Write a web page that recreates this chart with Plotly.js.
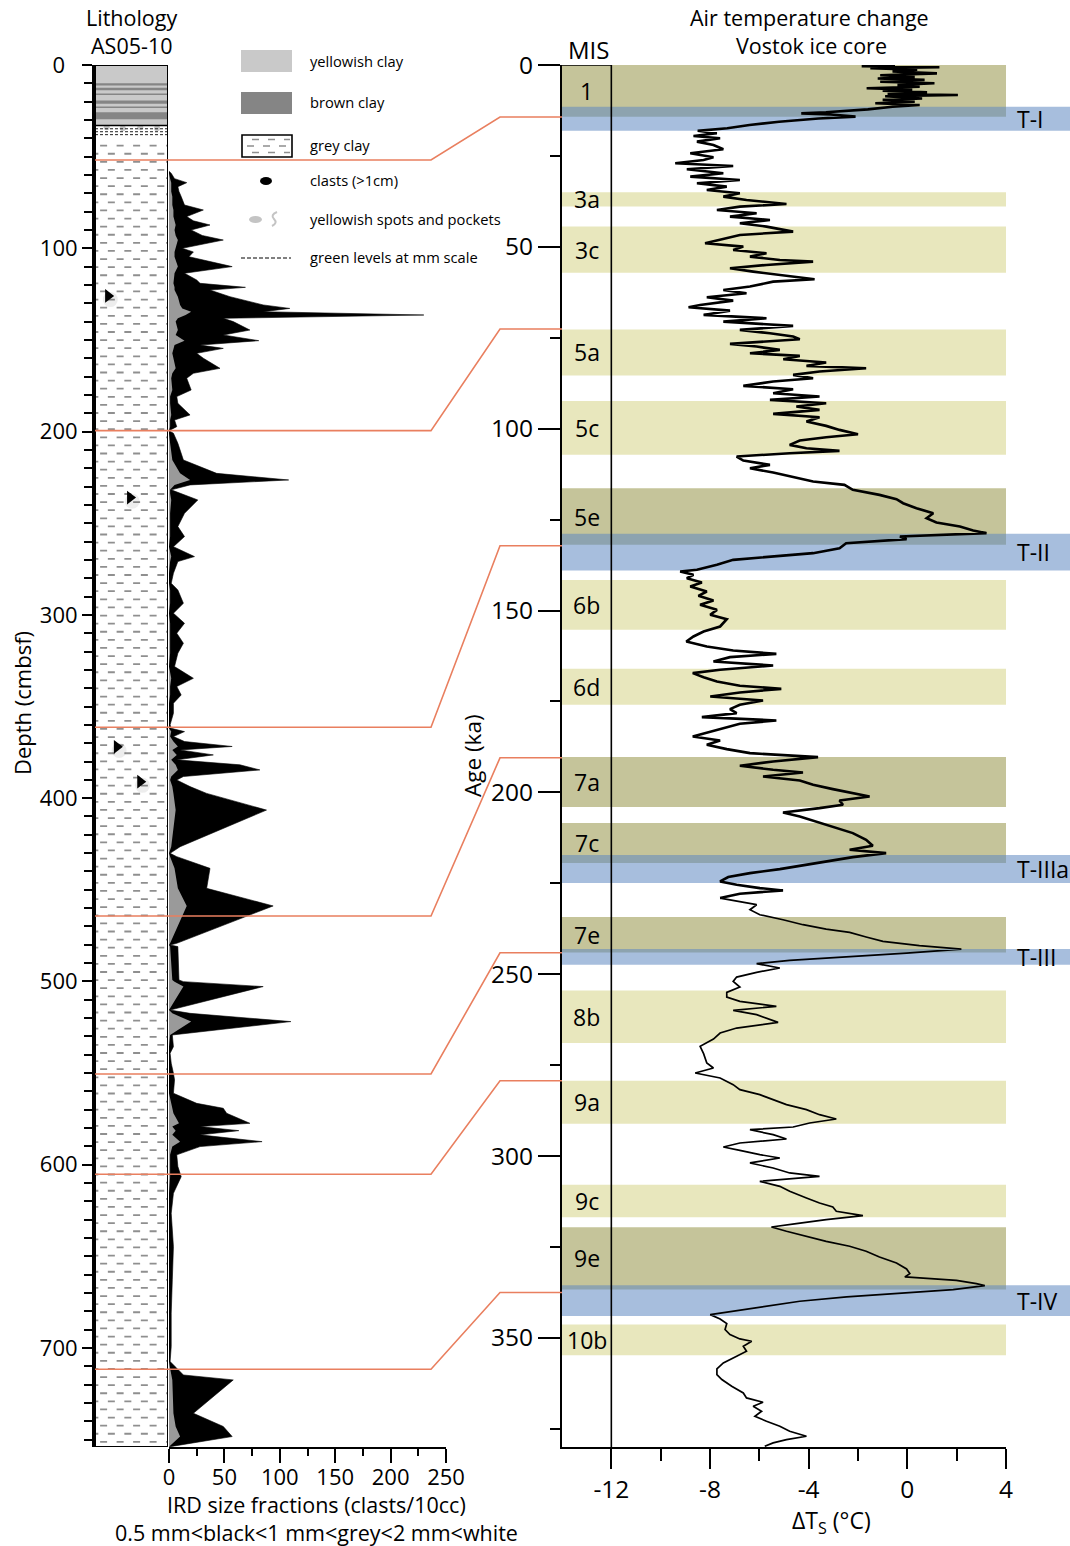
<!DOCTYPE html>
<html><head><meta charset="utf-8">
<script src="https://cdn.plot.ly/plotly-3.0.1.min.js"></script>
<style>html,body{margin:0;padding:0;background:#fff}#chart{width:1070px;height:1546px}</style>
</head><body><div id="chart"></div>
<script>
// ---------------- DATA ----------------
// IRD counts (clasts/10cc) vs depth (cmbsf)
const irdDepth = [
 58, 59.1, 62, 64.2, 66.4, 69, 71.8, 76.4, 79.1, 82.7,
 85, 87.3, 90, 93, 95.5, 100, 102, 104.6, 110, 113.6,
 117.3, 119.1, 121.3, 122.8, 126.4, 130.9, 132.8, 134.6, 136.4, 138.2,
 140, 144.6, 147.3, 150.4, 152.8, 154.6, 157.3, 160, 165.5, 168.2,
 170.9, 177.3, 180.9, 184.6, 190.9, 193.7, 197.3, 199.5, 200.9, 206.4,
 215.5, 222.8, 226.4, 229.1, 231.8, 233.7, 237.3, 244.6, 251.8, 257.3,
 262.8, 268.2, 270.9, 277.3, 282.8, 286.4, 293.7, 299.1, 304.6, 310,
 315.5, 320.9, 328.2, 334.6, 339.1, 343.7, 348.2, 353.7, 360, 361.9,
 363.7, 366.4, 369.1, 371.8, 373.7, 376.4, 379.1, 381.8, 384.6, 388.2,
 390.1, 393.7, 397.4, 406.5, 426.5, 430.1, 431.9, 438.3, 449.2, 458.8,
 479.2, 480.1, 481, 499.2, 500.1, 502.8, 515.6, 517.4, 521.9, 529.2,
 535.6, 539.2, 544.6, 550.1, 553.7, 561, 566.5, 569.2, 571.9, 577.4,
 579.2, 581.4, 583.7, 587.4, 590.1, 594.6, 601, 606.5, 615.6, 626.5,
 644.7, 662.8, 681, 699.2, 707.4, 711, 714.7, 717.4, 735.6, 742.8,
 748.3, 753.8];
// all fractions together (outer black envelope)
const irdTotal = [
 0, 2, 5, 16, 8, 9, 11, 14, 31, 16,
 22, 37, 20, 30, 49, 12, 22, 18, 57, 14,
 25, 28, 69, 37, 55, 85, 109, 85, 230, 49,
 58, 73, 49, 81, 28, 49, 25, 31, 46, 22,
 16, 20, 7, 8, 19, 5, 7, 0, 4, 8,
 13, 43, 108, 19, 2, 10, 26, 14, 8, 14,
 4, 23, 8, 4, 2, 8, 13, 4, 14, 7,
 13, 8, 5, 22, 7, 11, 4, 4, 1, 2,
 14, 4, 14, 57, 10, 40, 7, 64, 82, 13,
 7, 19, 34, 88, 10, 1, 7, 37, 34, 94,
 7, 1, 8, 9, 13, 85, 1, 19, 110, 3,
 4, 1, 2, 4, 5, 4, 25, 49, 52, 73,
 28, 63, 28, 84, 28, 7, 8, 11, 4, 2,
 4, 3, 2, 2, 1, 7, 13, 58, 22, 49,
 57, 1];
// coarser fractions (grey, >1 mm)
const irdGrey = [
 0, 0, 1, 2, 2, 2, 3, 3, 4, 4,
 5, 6, 5, 6, 8, 6, 5, 5, 8, 5,
 4, 4, 5, 5, 8, 10, 12, 20, 15, 8,
 6, 8, 6, 14, 5, 4, 3, 4, 6, 3,
 2, 3, 1, 1, 2, 1, 1, 0, 0, 1,
 3, 10, 19, 5, 1, 1, 2, 1, 1, 1,
 0, 2, 1, 0, 0, 1, 1, 0, 1, 1,
 1, 1, 0, 2, 1, 1, 0, 0, 0, 0,
 2, 1, 4, 8, 3, 7, 2, 6, 8, 2,
 1, 3, 4, 6, 2, 0, 1, 5, 8, 16,
 1, 0, 1, 3, 5, 13, 0, 3, 20, 1,
 0, 0, 0, 0, 0, 0, 2, 3, 4, 9,
 3, 6, 3, 10, 3, 1, 1, 1, 0, 0,
 0, 0, 0, 0, 0, 1, 2, 3, 4, 6,
 10, 0];

// Lithology (cm)
const yellowTop = 0, yellowBottom = 33;
const brownTop = [10, 12.4, 15.6, 19.4, 22.6, 25.8];
const brownBottom = [11.2, 13.8, 16.4, 21.2, 23.4, 29.6];
const greyClayTop = 33, coreBottom = 754;
const greenLevels = [34.8, 36.4, 38.0];
const spotDepth = [34, 34.5, 34, 34.5];
const spotPos = [0.16, 0.38, 0.62, 0.85];
const clastDepth = [126, 236, 372, 391];
const clastPos = [0.18, 0.48, 0.30, 0.62];
const depthTicks = [0, 100, 200, 300, 400, 500, 600, 700];
const depthTickText = ['0\u2007', '100', '200', '300', '400', '500', '600', '700'];

// Vostok air temperature change (ka, degC)
const vostokAge = [
 0, 0.3, 0.6, 0.9, 1.3, 1.8, 2.3, 2.8, 3.3, 3.7, 4.1, 4.6, 5.0, 5.5, 6.0, 6.4, 6.8, 7.05, 7.5, 8.0, 8.25, 8.6, 9.2, 9.6, 10.1, 10.5, 11.0, 11.5,
 12.2, 12.8, 13.0, 13.3, 13.6, 14.2, 14.7, 15.6, 16.5, 17.4, 18.1,
 18.78, 19.52, 20.16, 21.07, 21.99, 23.18, 24.28, 25.38, 26.11, 27.03,
 27.76, 28.68, 29.78, 30.69, 31.61, 32.53, 33.44, 34.36, 35.28, 36.19,
 37.11, 38.21, 38.94, 39.86, 40.77, 41.69, 42.61, 43.52, 44.44, 45.81,
 46.73, 48.10, 49.02, 49.94, 50.85, 51.77, 52.68, 53.60, 54.06, 54.98,
 55.89, 56.81, 57.72, 58.92, 59.56, 60.93, 61.85, 62.76, 63.86, 64.78,
 65.97, 66.61, 67.53, 68.72, 69.64, 70.55, 71.74, 72.84, 73.76, 74.67, 75.41,
 76.69, 77.42, 78.34, 79.26, 79.99, 80.90, 81.82, 82.74, 83.38, 84.29,
 85.21, 86.13, 87.04, 88.23, 89.15, 90.25, 91.17, 92.08, 93.0, 93.91,
 94.83, 95.93, 96.85, 98.04, 99.23, 100.33, 101.52, 102.35, 103.26, 104.45,
 105.37, 106.10, 106.74, 107.66, 108.76, 109.95, 110.87, 112.06, 113.16, 114.53,
 115.45, 116.82, 118.20, 119.39, 120.49, 121.86, 123.23, 124.61, 125.80, 126.90,
 128.0, 128.73, 129.65, 130.38, 131.48, 132.86, 134.23, 135.15, 136.06, 137.44,
 138.81, 139.27, 140.19, 141.10, 142.29, 143.39, 144.77, 145.96, 147.24, 148.43,
 149.81, 151.18, 152.37,
 154.39, 155.77, 157.14, 158.52, 159.89, 160.99, 161.91, 162.82, 164.01, 165.11,
 166.30, 167.22, 168.32, 169.51, 170.70, 171.53, 172.53, 173.63, 174.73, 175.92,
 177.12, 178.21, 179.31, 180.23, 181.15, 182.34, 183.71, 184.63, 185.73, 186.92,
 188.11, 189.21, 190.31, 191.50, 192.69, 193.79, 194.52, 195.62, 196.72, 197.92,
 199.11, 200.21, 201.12, 202.22, 203.41, 204.33, 205.52, 206.62, 207.99, 209.37,
 211.20, 213.03, 214.68, 215.78, 216.70, 217.80, 218.71, 219.90, 221.10, 222.20,
 223.29, 224.49, 225.40, 226.32, 226.96, 227.88, 229.07,
 230.89, 232.27, 233.64, 235.02, 236.39, 237.58, 238.50, 239.78, 240.97, 242.16,
 243.08, 244.18, 245.28, 246.20, 247.11, 248.30, 249.49, 250.78, 251.97, 253.53,
 254.99, 256.28, 257.47, 258.84, 259.94, 261.13, 263.24, 264.80, 266.17, 267.82,
 269.84, 271.85, 274.42, 275.79, 277.16, 278.54, 280.37, 281.75, 283.12, 284.49,
 285.87, 287.24, 288.62, 289.81, 290.91, 292.01, 292.74, 294.12, 295.31, 296.41,
 297.51, 298.42, 299.61, 300.53, 301.90, 303.28, 304.65, 305.57,
 306.95, 308.32, 309.70, 311.53, 312.90, 314.0, 315.19, 316.39, 317.48, 318.58,
 319.50, 320.69, 322.07, 323.44, 324.81, 326.19, 327.75, 329.40, 331.05, 332.33,
 333.24, 334.16, 335.08, 335.63, 336.73, 337.83, 338.74, 339.93, 341.31, 342.68,
 343.60, 344.79, 346.07, 347.72, 349.10, 350.29, 350.93, 352.30, 353.68, 355.05,
 356.88, 358.53, 360.09, 361.46, 363.30, 365.13, 366.50, 367.70, 368.80, 370.17,
 371.54, 372.92, 374.29, 375.67, 377.04, 377.96, 378.87, 379.79];
const vostokT = [
 -0.5, -1.85, 1.3, -1.5, 0.4, -0.6, 1.2, -1.1, 0.3, -1.2, 0.7, -1.1, 1.1, -0.4, 0.5, -1.65, 0.2, -1.0, 0.8, -0.8, 2.05, -0.9, 0.6, -1.0, 0.3, -1.3, 0.5, -0.6,
 -1.6, -2.7, -3.3, -4.3, -3.1, -2.1, -3.6, -5.2, -6.4, -7.3, -8.5,
 -7.72, -8.67, -7.59, -8.53, -7.86, -7.46, -8.80, -7.86, -8.26, -9.41,
 -7.06, -8.94, -7.46, -8.80, -6.79, -8.53, -7.32, -8.13, -6.79, -7.46,
 -6.52, -4.90, -6.79, -7.72, -6.11, -7.19, -5.57, -6.79, -5.71, -4.63,
 -6.79, -7.59, -8.20, -6.65, -7.06, -5.71, -6.38, -5.17, -3.82, -5.71,
 -7.19, -6.25, -5.17, -3.76, -5.44, -6.38, -7.46, -6.52, -8.13, -7.06,
 -8.40, -8.87, -7.19, -8.26, -5.71, -7.46, -4.63, -6.79, -5.57, -4.63, -4.36,
 -7.19, -6.11, -5.17, -6.38, -4.36, -5.03, -3.29, -4.09, -1.67, -3.56,
 -4.63, -3.82, -5.44, -6.65, -4.63, -5.44, -3.56, -5.57, -3.29, -4.50,
 -3.56, -5.44, -3.56, -4.09, -3.29, -2.75, -2.0, -3.29, -4.36, -4.77,
 -4.09, -2.75, -4.77, -6.92, -6.65, -5.57, -6.38, -5.44, -4.77, -3.82,
 -2.55, -2.21, -1.13, -0.44, -0.17, 0.37, 1.05, 0.78, 1.18, 2.13,
 2.67, 3.21, -0.30, -0.03, -2.48, -2.75, -3.82, -5.44, -7.06, -7.72,
 -8.53, -9.21, -8.67, -8.94, -8.33, -8.80, -8.13, -8.47, -7.86, -8.40,
 -7.72, -7.99, -7.32,
 -7.59, -8.26, -8.67, -8.96, -8.13, -7.06, -5.31, -7.19, -7.86, -5.44,
 -7.59, -8.70, -8.26, -7.72, -6.79, -5.11, -6.79, -7.99, -5.85, -6.79,
 -7.19, -6.92, -8.33, -5.31, -6.79, -7.46, -8.13, -8.70, -7.59, -8.13,
 -7.32, -6.38, -3.62, -5.44, -6.79, -5.44, -4.23, -5.85, -4.36, -3.82,
 -3.02, -2.21, -1.53, -2.75, -2.61, -3.56, -5.04, -4.36, -3.69, -3.02,
 -2.21, -1.67, -1.40, -2.34, -0.86, -2.21, -3.02, -4.09, -5.17, -6.38,
 -7.26, -7.59, -6.92, -5.98, -5.04, -6.79, -7.59,
 -6.11, -6.38, -5.98, -5.04, -4.23, -3.29, -2.34, -1.67, -0.99, 0.49,
 2.19, -0.03, -2.48, -4.77, -6.11, -5.17, -6.11, -6.92, -7.06, -6.79,
 -7.32, -7.32, -6.79, -5.31, -7.06, -6.11, -5.24, -6.92, -7.59, -7.86,
 -8.40, -8.26, -8.13, -7.86, -8.60, -7.59, -7.06, -6.79, -5.98, -5.44,
 -4.90, -4.09, -3.56, -2.88, -3.96, -4.63, -6.38, -5.44, -4.90, -6.79,
 -7.46, -6.79, -5.98, -5.17, -6.38, -5.44, -4.77, -3.56,
 -5.98, -5.17, -4.77, -4.09, -3.56, -3.02, -2.88, -1.80, -3.29, -4.50,
 -5.51, -4.90, -4.09, -3.29, -2.34, -1.67, -1.13, -0.44, -0.03, 0.10,
 -0.10, 1.99, 2.80, 3.14, 1.86, -0.59, -2.46, -4.36, -5.71, -7.19,
 -7.99, -7.59, -7.32, -7.39, -7.19, -6.79, -6.31, -6.65, -6.52, -6.92,
 -7.46, -7.72, -7.72, -7.52, -7.12, -6.65, -6.52, -5.85, -6.25, -5.91,
 -6.18, -5.71, -5.17, -4.77, -4.09, -4.90, -5.44, -5.78];
// the record is high-resolution (dense) down to ~229 ka
const vostokDenseUntil = 229.1;

// Marine isotope (sub)stages, ka
const misLabel = ['1','3a','3c','5a','5c','5e','6b','6d','7a','7c','7e','8b','9a','9c','9e','10b'];
const misStart = [0, 35.0, 44.4, 72.7, 92.4, 116.4, 141.6, 166.0, 190.3, 208.4, 234.3, 254.5, 279.3, 307.9, 319.6, 346.3];
const misEnd   = [14.2, 38.9, 57.1, 85.4, 107.2, 131.9, 155.3, 175.9, 204.0, 219.4, 244.0, 268.9, 291.1, 316.8, 336.7, 354.8];
const misWarm  = [true,false,false,false,false,true,false,false,true,true,true,false,false,false,true,false];
// Terminations, ka
const termLabel = ['T-I','T-II','T-IIIa','T-III','T-IV'];
const termStart = [11.45, 128.9, 217.2, 243.1, 335.5];
const termEnd   = [18.05, 139.0, 224.9, 247.4, 344.0];
// Depth-to-age tie points
const tieDepth = [51.8, 199.5, 361.3, 464.3, 550.5, 605.2, 711.6];
const tieAge   = [14.3, 72.6, 132.2, 190.5, 244.1, 279.3, 337.5];
// Tick labels
const tempTicks = [-12, -8, -4, 0, 4];
const tempTickText = ['-12', '-8', '-4', '0', '4'];
const tempMinor = [-10, -6, -2, 2];

// ---------------- LAYOUT HELPERS ----------------
const W = 1070, H = 1546;
const px = v => v / W;
const py = v => 1 - v / H;
const yDom = [py(1447), py(65)];
const DEPTH_MAX = 754, AGE_MAX = 380;
const depthToPaper = d => yDom[0] + (DEPTH_MAX - d) / DEPTH_MAX * (yDom[1] - yDom[0]);
const ageToPaper = a => yDom[0] + (AGE_MAX - a) / AGE_MAX * (yDom[1] - yDom[0]);
const FONT = 'Open Sans, Noto Sans, sans-serif';

// ---------------- TRACES ----------------
const traces = [];

// grey clay dash pattern
const patX = [], patY = [];
let row = 0;
for (let d = 44; d < coreBottom - 1; d += 4.42) {
  patX.push(row % 2 ? -0.05 : 0.07, 1.05, null);
  patY.push(d, d, null);
  row++;
}
traces.push({x: patX, y: patY, xaxis: 'x3', yaxis: 'y', mode: 'lines', hoverinfo: 'skip',
  line: {color: '#8f8f8f', width: 1.8, dash: '7px,9.5px'}});
// yellowish spots
traces.push({x: spotPos, y: spotDepth, xaxis: 'x3', yaxis: 'y', mode: 'markers', hoverinfo: 'skip',
  marker: {symbol: 'circle', size: 6, color: '#c8c8c8'}});
// clast shadows + clasts
traces.push({x: clastPos.map(v => v + 0.03), y: clastDepth.map(v => v + 2), xaxis: 'x3', yaxis: 'y', mode: 'markers', hoverinfo: 'skip',
  marker: {symbol: 'circle', size: 15, color: 'rgba(0,0,0,0.07)'}});
traces.push({x: clastPos, y: clastDepth, xaxis: 'x3', yaxis: 'y', mode: 'markers', hoverinfo: 'skip',
  marker: {symbol: 'triangle-right', size: 12, color: '#000'}});
// IRD envelopes
traces.push({x: irdTotal, y: irdDepth, xaxis: 'x', yaxis: 'y', mode: 'lines', fill: 'tozerox',
  fillcolor: '#000', line: {color: '#000', width: 0.6}, name: '0.5-1 mm'});
traces.push({x: irdGrey, y: irdDepth, xaxis: 'x', yaxis: 'y', mode: 'lines', fill: 'tozerox',
  fillcolor: '#9a9a9a', line: {color: '#9a9a9a', width: 0}, name: '1-2 mm'});
// Vostok: dense upper part drawn heavier, lower part thinner
const upIdx = vostokAge.map((a, i) => i).filter(i => vostokAge[i] <= vostokDenseUntil);
const loIdx = vostokAge.map((a, i) => i).filter(i => vostokAge[i] >= vostokDenseUntil - 0.5);
traces.push({x: upIdx.map(i => vostokT[i]), y: upIdx.map(i => vostokAge[i]), xaxis: 'x2', yaxis: 'y2', mode: 'lines',
  line: {color: '#000', width: 2.6}, name: 'Vostok'});
traces.push({x: loIdx.map(i => vostokT[i]), y: loIdx.map(i => vostokAge[i]), xaxis: 'x2', yaxis: 'y2', mode: 'lines',
  line: {color: '#000', width: 1.7}, name: 'Vostok'});

// ---------------- SHAPES ----------------
const shapes = [];
// lithology
shapes.push({type: 'rect', xref: 'x3', yref: 'y', x0: 0, x1: 1, y0: yellowTop, y1: yellowBottom,
  fillcolor: '#c9c9c9', line: {width: 0}, layer: 'below'});
brownTop.forEach((t, i) => shapes.push({type: 'rect', xref: 'x3', yref: 'y', x0: 0, x1: 1, y0: t, y1: brownBottom[i],
  fillcolor: '#858585', line: {width: 0}, layer: 'below'}));
shapes.push({type: 'line', xref: 'x3', yref: 'y', x0: 0, x1: 1, y0: greyClayTop, y1: greyClayTop,
  line: {color: '#000', width: 1.6}});
greenLevels.forEach(d => shapes.push({type: 'line', xref: 'x3', yref: 'y', x0: 0, x1: 1, y0: d, y1: d,
  line: {color: '#222', width: 1, dash: '3px,2px'}}));
shapes.push({type: 'rect', xref: 'x3', yref: 'y', x0: 0, x1: 1, y0: 0, y1: coreBottom,
  line: {color: '#000', width: 2}, fillcolor: 'rgba(0,0,0,0)'});

// MIS bands (paper x so that terminations can overlay them)
misLabel.forEach((l, i) => shapes.push({type: 'rect', xref: 'paper', yref: 'y2',
  x0: px(562), x1: px(1006), y0: misStart[i], y1: misEnd[i],
  fillcolor: misWarm[i] ? '#c5c49a' : '#e8e7bd', line: {width: 0}, layer: 'below'}));
termLabel.forEach((l, i) => shapes.push({type: 'rect', xref: 'paper', yref: 'y2',
  x0: px(562), x1: 1, y0: termStart[i], y1: termEnd[i],
  fillcolor: 'rgba(95,137,193,0.55)', line: {width: 0}, layer: 'below'}));
// MIS column
shapes.push({type: 'line', xref: 'x2', yref: 'y2', x0: -12, x1: -12, y0: 0, y1: AGE_MAX, line: {color: '#000', width: 1.6}});
shapes.push({type: 'line', xref: 'x2', yref: 'y2', x0: -14, x1: -12, y0: 0, y1: 0, line: {color: '#000', width: 1.6}});

// tie lines
tieDepth.forEach((d, i) => {
  const yd = depthToPaper(d), ya = ageToPaper(tieAge[i]);
  shapes.push({type: 'path', xref: 'paper', yref: 'paper',
    path: `M ${px(95)},${yd} L ${px(431)},${yd} L ${px(500)},${ya} L ${px(562)},${ya}`,
    line: {color: '#e97f5f', width: 1.6}});
});

// legend glyphs
shapes.push({type: 'rect', xref: 'paper', yref: 'paper', x0: px(241), x1: px(292), y0: py(72), y1: py(50), fillcolor: '#c9c9c9', line: {width: 0}});
shapes.push({type: 'rect', xref: 'paper', yref: 'paper', x0: px(241), x1: px(292), y0: py(114), y1: py(92), fillcolor: '#858585', line: {width: 0}});
shapes.push({type: 'rect', xref: 'paper', yref: 'paper', x0: px(242), x1: px(292), y0: py(157), y1: py(135), fillcolor: '#fff', line: {color: '#000', width: 1.6}});
[139.5, 146, 152.5].forEach((y, i) => shapes.push({type: 'line', xref: 'paper', yref: 'paper',
  x0: px(i % 2 ? 247 : 252), x1: px(290), y0: py(y), y1: py(y), line: {color: '#8f8f8f', width: 1.6, dash: '7px,9px'}}));
shapes.push({type: 'circle', xref: 'paper', yref: 'paper', x0: px(260), x1: px(272), y0: py(185), y1: py(177), fillcolor: '#000', line: {width: 0}});
shapes.push({type: 'circle', xref: 'paper', yref: 'paper', x0: px(249), x1: px(262), y0: py(223), y1: py(216), fillcolor: '#c4c4c4', line: {width: 0}});
shapes.push({type: 'path', xref: 'paper', yref: 'paper',
  path: `M ${px(277)},${py(212)} Q ${px(270)},${py(215)} ${px(274)},${py(219)} Q ${px(278)},${py(223)} ${px(272)},${py(226)}`,
  line: {color: '#c4c4c4', width: 2}});
shapes.push({type: 'line', xref: 'paper', yref: 'paper', x0: px(241), x1: px(291), y0: py(258), y1: py(258),
  line: {color: '#000', width: 1, dash: '4px,2px'}});

// ---------------- ANNOTATIONS ----------------
const ann = [];
const txt = (x, y, text, size, opts = {}) => Object.assign({xref: 'paper', yref: 'paper', x: px(x), y: py(y), text,
  showarrow: false, font: {family: FONT, size, color: '#000'}, xanchor: 'center', yanchor: 'middle'}, opts);
ann.push(txt(131, 17, 'Lithology', 21.5));
ann.push(txt(131, 46, 'AS05-10', 21.5));
ann.push(txt(809, 17, 'Air temperature change', 21.5));
ann.push(txt(811, 46, 'Vostok ice core', 21.5));
ann.push(txt(588, 50, 'MIS', 24));
const legendLabels = ['yellowish clay', 'brown clay', 'grey clay', 'clasts (>1cm)', 'yellowish spots and pockets', 'green levels at mm scale'];
const legendY = [61, 102, 145, 180, 219, 257];
legendLabels.forEach((l, i) => ann.push(txt(308, legendY[i], l, 14.7, {xanchor: 'left'})));
ann.push(txt(22, 703, 'Depth (cmbsf)', 22, {textangle: -90}));
ann.push(txt(472, 756, 'Age (ka)', 22.5, {textangle: -90}));
ann.push(txt(316, 1504, 'IRD size fractions (clasts/10cc)', 21.5));
ann.push(txt(316, 1532, '0.5 mm&lt;black&lt;1 mm&lt;grey&lt;2 mm&lt;white', 21.5));
ann.push(txt(831, 1521, 'ΔT<sub>S</sub> (°C)', 23));
misLabel.forEach((l, i) => ann.push({xref: 'x2', yref: 'y2', x: -13, y: (misStart[i] + misEnd[i]) / 2, text: l,
  showarrow: false, font: {family: FONT, size: 23, color: '#000'}, xanchor: 'center', yanchor: 'middle'}));
termLabel.forEach((l, i) => ann.push({xref: 'paper', yref: 'y2', x: px(1015), y: (termStart[i] + termEnd[i]) / 2, text: l,
  showarrow: false, font: {family: FONT, size: 23, color: '#000'}, xanchor: 'left', yanchor: 'middle'}));

// ---------------- LAYOUT ----------------
const tickFontL = {family: FONT, size: 22, color: '#000'};
const tickFontR = {family: FONT, size: 24.5, color: '#000'};
const layout = {
  width: W, height: H, autosize: false, showlegend: false,
  margin: {l: 0, r: 0, t: 0, b: 0, pad: 0},
  paper_bgcolor: '#fff', plot_bgcolor: 'rgba(0,0,0,0)',
  font: {family: FONT, color: '#000'},
  xaxis: {domain: [px(169), px(446)], range: [0, 250], anchor: 'y', showline: true, linewidth: 2, linecolor: '#000',
    ticks: 'outside', ticklen: 14, tickwidth: 2, tickcolor: '#000', tick0: 0, dtick: 50, ticklabelstandoff: -4,
    minor: {ticks: 'outside', tick0: 0, dtick: 25, ticklen: 7, tickwidth: 2, tickcolor: '#000'},
    showgrid: false, zeroline: false, tickfont: tickFontL, fixedrange: true},
  yaxis: {domain: yDom, range: [DEPTH_MAX, 0], anchor: 'free', position: px(93), side: 'left',
    showline: true, linewidth: 3, linecolor: '#000', ticks: 'outside', ticklen: 10, tickwidth: 2, tickcolor: '#000',
    tickmode: 'array', tickvals: depthTicks, ticktext: depthTickText,
    minor: {ticks: 'outside', tick0: 0, dtick: 10, ticklen: 8, tickwidth: 2, tickcolor: '#000'},
    showgrid: false, zeroline: false, tickfont: tickFontL, fixedrange: true},
  xaxis3: {domain: [px(95), px(168)], range: [0, 1], anchor: 'y', visible: false, fixedrange: true},
  xaxis2: {domain: [px(562), px(1006)], range: [-14, 4], anchor: 'y2', showline: true, linewidth: 2, linecolor: '#000',
    ticks: 'outside', tickmode: 'array', tickvals: tempTicks, ticktext: tempTickText, ticklen: 20, tickwidth: 2, tickcolor: '#000',
    minor: {ticks: 'outside', tickmode: 'array', tickvals: tempMinor, ticklen: 12, tickwidth: 2, tickcolor: '#000'},
    showgrid: false, zeroline: false, tickfont: tickFontR, fixedrange: true},
  yaxis2: {domain: yDom, range: [AGE_MAX, 0], anchor: 'x2', showline: true, linewidth: 2, linecolor: '#000',
    ticks: 'outside', ticklen: 22, tickwidth: 2, tickcolor: '#000', tick0: 0, dtick: 50,
    minor: {ticks: 'outside', tick0: 0, dtick: 25, ticklen: 10, tickwidth: 2, tickcolor: '#000'},
    showgrid: false, zeroline: false, tickfont: tickFontR, fixedrange: true},
  shapes: shapes,
  annotations: ann
};

Plotly.newPlot('chart', traces, layout, {displayModeBar: false, staticPlot: true});
</script></body></html>
